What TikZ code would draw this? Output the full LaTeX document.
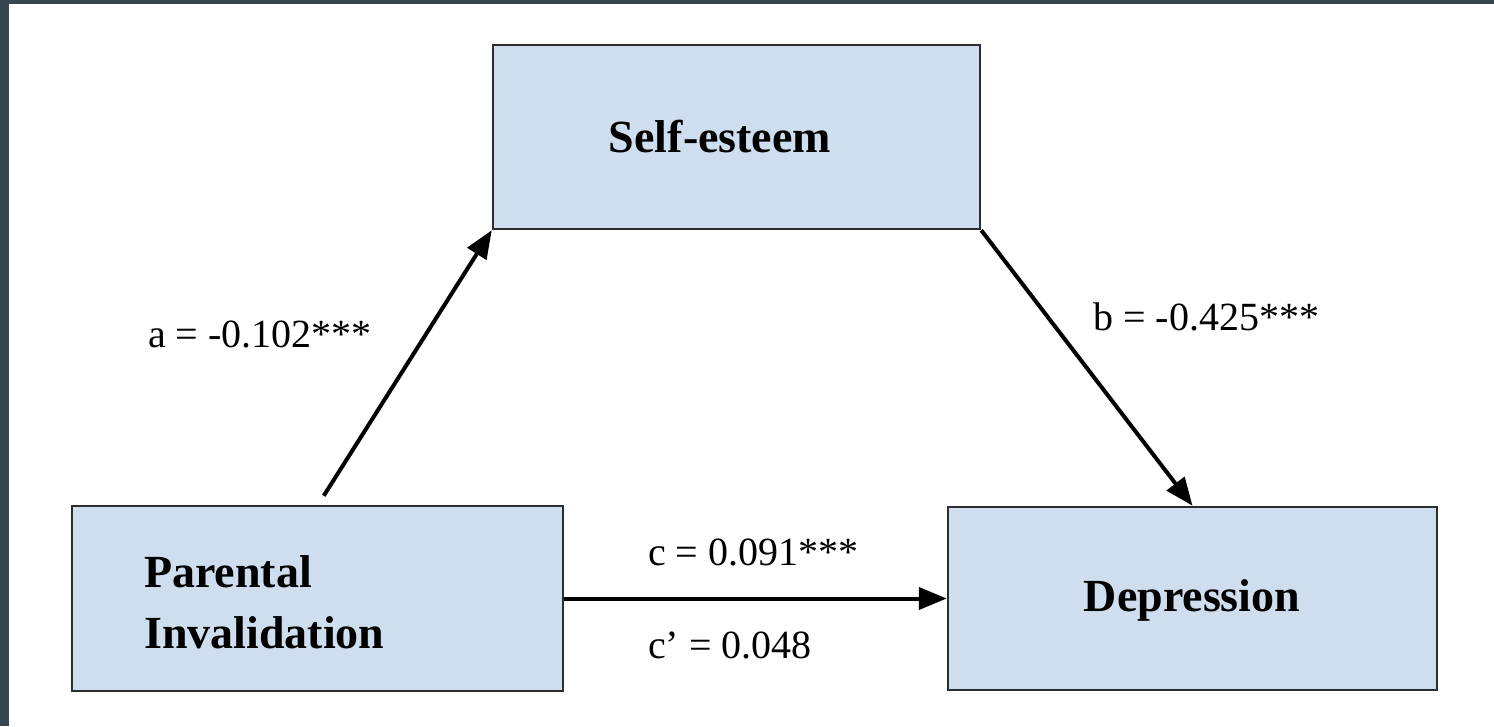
\documentclass[tikz,border=0pt]{standalone}
\usepackage{fontspec}
\setmainfont{Liberation Serif}
\usetikzlibrary{arrows.meta,calc}
\definecolor{band}{RGB}{55,71,79}
\definecolor{boxfill}{RGB}{207,222,238}
\definecolor{boxline}{RGB}{45,45,45}
\tikzset{
  boxnode/.style={draw=boxline, line width=2.5pt, fill=boxfill, inner sep=0pt},
  boxtext/.style={inner sep=0pt, font=\fontsize{46}{61}\selectfont\bfseries},
  lbl/.style={inner sep=0pt, anchor=base west, font=\fontsize{40}{48}\selectfont},
  arr/.style={line width=4pt, -{Triangle[length=28pt,width=22pt]}}
}
\begin{document}
\begin{tikzpicture}[x=1pt,y=-1pt]
\useasboundingbox (0,0) rectangle (1494,726);
\fill[white] (0,0) rectangle (1494,726);
\fill[band] (0,0) rectangle (9,726);
\fill[band] (0,0) rectangle (1494,4);
% boxes
\node[boxnode, minimum width=487pt, minimum height=184pt] (se) at (736.5,137) {};
\node[boxtext] (setext) at (720,137) {Self-esteem};
\node[boxnode, minimum width=491pt, minimum height=185pt] (pi) at (317.5,598.5) {};
\node[boxtext, anchor=west, align=left] (pitext) at (144,602) {Parental\\Invalidation};
\node[boxnode, minimum width=489pt, minimum height=183pt] (dep) at (1192.5,598.5) {};
\node[boxtext] (deptext) at (1192,600) {Depression};
% connectors
\draw[arr] ([xshift=253pt,yshift=9pt]pi.north west) -- (se.south west);
\draw[arr] (se.south east) -- (dep.north);
\draw[arr] (pi.east) -- (dep.west);
% labels
\node[lbl] (la) at (148,347) {a = -0.102***};
\node[lbl] (lb) at (1093,330) {b = -0.425***};
\node[lbl] (lc) at (648,565) {c = 0.091***};
\node[lbl] (lcp) at (648,658) {c’ = 0.048};
\end{tikzpicture}
\end{document}
